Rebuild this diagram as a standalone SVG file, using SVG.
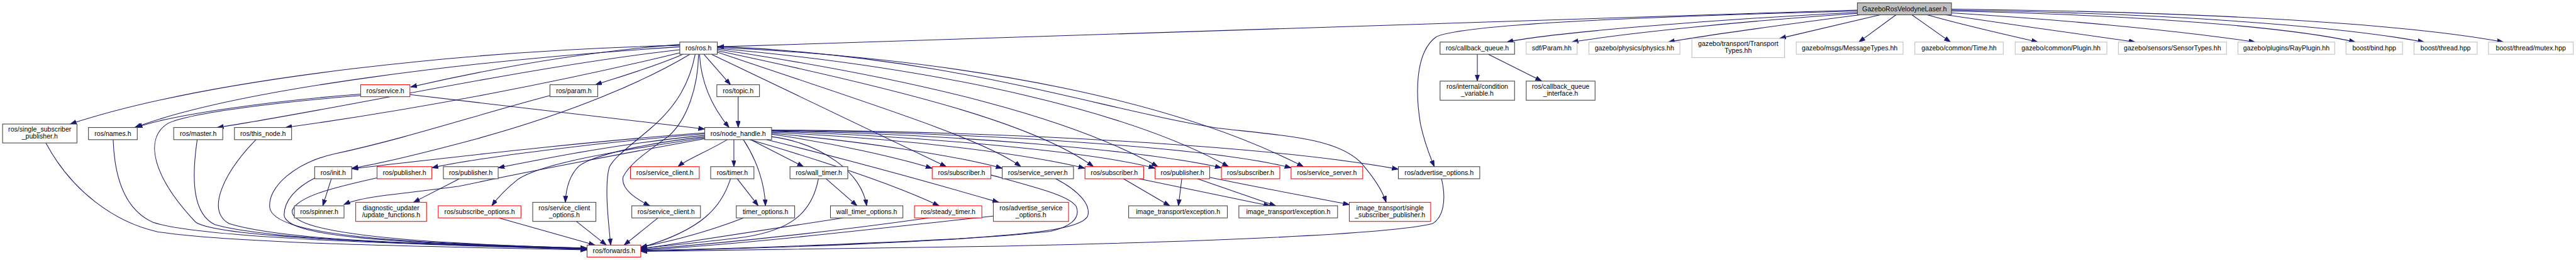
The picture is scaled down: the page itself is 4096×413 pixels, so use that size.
<svg xmlns="http://www.w3.org/2000/svg" width="4096" height="413" viewBox="0 0 4096 413">
<style>
.e{fill:none;stroke:#191970;stroke-width:1.4;marker-end:url(#a)}
rect{fill:#fff;stroke-width:1.4}
.k{stroke:#404040}.r{stroke:#ff0000}.g{stroke:#bfbfbf}
.root{fill:#bfbfbf;stroke:#404040}
text{font-family:"Liberation Sans",Arial,sans-serif;font-size:14px;text-anchor:middle;fill:#000}
</style>
<defs>
<marker id="a" markerUnits="userSpaceOnUse" markerWidth="14" markerHeight="10" refX="13.3" refY="4.7" orient="auto"><path d="M0,0 L13.3,4.7 L0,9.4 z" fill="#191970" stroke="#191970" stroke-width="1"/></marker>
</defs>
<rect x="0" y="0" width="4096" height="413" style="fill:#fff;stroke:none"/>
<g transform="scale(0.75922)">
<g id="edges">
<path class="e" d="M3890,21 L1503,98"/>
<path class="e" d="M3890,26 C3600,40 3250,68 3156,88"/>
<path class="e" d="M3890,23 C3400,36 3060,52 3008,77 C2962,110 2965,200 2975,260 C2985,305 2996,330 3004,348.7"/>
<path class="e" d="M3890,28 C3650,44 3400,70 3292,88"/>
<path class="e" d="M3895,31 C3750,50 3580,72 3494,88"/>
<path class="e" d="M3938,31 L3727,80.5"/>
<path class="e" d="M3971,31 L3893,88"/>
<path class="e" d="M4004,31 L4085,88"/>
<path class="e" d="M4036,31 C4120,55 4200,72 4268,88"/>
<path class="e" d="M4075,31 C4200,50 4350,70 4472,88"/>
<path class="e" d="M4087,27 C4300,40 4550,62 4723,88"/>
<path class="e" d="M4087,23 C4500,32 4800,58 4933,88"/>
<path class="e" d="M4087,21 C4550,28 4900,55 5077,88"/>
<path class="e" d="M4087,19 C4650,25 5050,52 5243,88"/>
<path class="e" d="M3094,113.5 L3094,169.7"/>
<path class="e" d="M3117,113.5 L3229,169.7"/>
<path class="e" d="M1474,113.5 L1530,177.3"/>
<path class="e" d="M1465,113.5 C1468,170 1490,222 1527,266.8"/>
<path class="e" d="M1424,95 C1000,105 450,160 147,259.5"/>
<path class="e" d="M1424,98 C1000,125 500,185 282,266.8"/>
<path class="e" d="M1424,104 C1100,140 700,230 455,266.8"/>
<path class="e" d="M1426,110 C1200,165 900,225 598,266.8"/>
<path class="e" d="M1424,93 C1200,110 1000,150 860,182"/>
<path class="e" d="M1430,113.5 C1370,140 1300,160 1247,177.3"/>
<path class="e" d="M1445,113.5 C1350,170 1200,235 1000,290 C880,322 780,345 737,352"/>
<path class="e" d="M1456,113.5 C1445,170 1420,220 1361,270 C1320,305 1285,330 1276,350 C1265,390 1275,470 1279,512.8"/>
<path class="e" d="M1463,113.5 C1462,180 1440,250 1400,285 C1360,315 1320,340 1305,370 C1300,395 1330,415 1361,430.6"/>
<path class="e" d="M1490,113.5 L1982,348.7"/>
<path class="e" d="M1502,109 C1800,210 2060,290 2138,348.7"/>
<path class="e" d="M1502,106 C1900,190 2170,260 2290,348.7"/>
<path class="e" d="M1502,103 C1950,170 2250,250 2425,348.7"/>
<path class="e" d="M1502,101 C2000,145 2380,240 2573,348.7"/>
<path class="e" d="M1502,99 C2050,125 2470,215 2730,348.7"/>
<path class="e" d="M1502,97 C2000,118 2300,228 2550,268 C2700,285 2800,290 2850,340 C2878,372 2895,398 2903,423.3"/>
<path class="e" d="M755,197 C560,212 360,240 285,266.8"/>
<path class="e" d="M755,200 C600,212 400,235 352,258 C300,290 320,370 410,465 C460,500 900,510 1229,521"/>
<path class="e" d="M858.5,198 C1100,225 1300,250 1476,270"/>
<path class="e" d="M1152,200 C1000,240 850,290 700,322 C620,340 560,390 565,435 C575,490 800,508 1229,519"/>
<path class="e" d="M1546,202.3 L1546,266.8"/>
<path class="e" d="M1537,292.2 L1537,348.7"/>
<path class="e" d="M1557,292.2 C1585,335 1602,385 1603,430.6"/>
<path class="e" d="M1572,292.2 L1683,348.7"/>
<path class="e" d="M1616,286 C1720,300 1805,360 1815,430.6"/>
<path class="e" d="M1570,292.2 C1700,330 1860,380 1967,430.6"/>
<path class="e" d="M1605,292.2 C1800,340 1960,385 2092,423.3"/>
<path class="e" d="M1523,292.2 C1480,318 1440,332 1420,348.7"/>
<path class="e" d="M1477,286 C1350,300 1240,325 1212,348 C1190,370 1185,400 1184,423.3"/>
<path class="e" d="M1477,288 C1260,320 1130,345 1085,375 C1060,395 1045,410 1030,430.6"/>
<path class="e" d="M1477,290 C1300,322 1100,360 960,390 C850,405 760,410 720,428"/>
<path class="e" d="M1477,283 C1300,300 1150,330 1043.3,351"/>
<path class="e" d="M1477,280 C1250,298 1000,330 904.5,351"/>
<path class="e" d="M1477,278 C1200,298 900,335 736.6,353"/>
<path class="e" d="M1616,281 C1750,300 1880,330 1952,352"/>
<path class="e" d="M1616,279 C1800,295 2000,325 2099,352"/>
<path class="e" d="M1616,277 C1900,290 2150,322 2272,352"/>
<path class="e" d="M1616,275 C1950,285 2300,320 2419,352"/>
<path class="e" d="M1616,274 C2000,280 2400,315 2558,351"/>
<path class="e" d="M1616,273 C2100,278 2550,312 2704,351"/>
<path class="e" d="M1616,272 C2200,276 2700,312 2928.6,354"/>
<path class="e" d="M694,374 L676,430.6"/>
<path class="e" d="M660,372 C620,392 595,420 595,450 C600,495 800,508 1229,520"/>
<path class="e" d="M96,299 C150,400 240,465 330,485 C500,510 900,516 1229,523"/>
<path class="e" d="M237,292.2 C240,380 265,440 320,465 C420,500 900,512 1229,522"/>
<path class="e" d="M413,292.2 C400,380 405,448 450,470 C560,502 900,512 1229,521"/>
<path class="e" d="M536,292.2 C470,360 430,440 480,468 C600,505 900,510 1229,520"/>
<path class="e" d="M790,372 C700,392 625,410 612,440 C605,485 820,508 1229,519"/>
<path class="e" d="M962,374 L866,423.3"/>
<path class="e" d="M1045,456 L1246,512.8"/>
<path class="e" d="M1207,463.2 L1270,512.8"/>
<path class="e" d="M1378,456 L1307,512.8"/>
<path class="e" d="M1544,374 L1588,430.6"/>
<path class="e" d="M1530,374 C1512,430 1475,480 1342,518"/>
<path class="e" d="M1557,456 C1500,478 1420,502 1342,517"/>
<path class="e" d="M1730,374 L1795,430.6"/>
<path class="e" d="M1714,374 C1700,450 1650,482 1560,496 C1450,510 1380,515 1342,520"/>
<path class="e" d="M1765,456 C1600,482 1450,505 1342,521"/>
<path class="e" d="M1945,456 C1700,490 1500,510 1342,522"/>
<path class="e" d="M2080,452 C1800,482 1550,512 1342,523"/>
<path class="e" d="M2211,374 C2262,400 2285,430 2278,452 C2265,480 2150,490 2000,500 C1700,515 1450,522 1342,524"/>
<path class="e" d="M2075,366 C2180,395 2240,410 2254,432 C2265,460 2235,476 2200,484 C2000,506 1600,520 1342,525"/>
<path class="e" d="M3019,374 C3030,420 3022,455 3000,468 C2900,492 2500,506 2100,515 C1800,521 1500,525 1342,526"/>
<path class="e" d="M2353,374 L2450,430.6"/>
<path class="e" d="M2386,374 L2660,430.6"/>
<path class="e" d="M2475,374 L2468,430.6"/>
<path class="e" d="M2508,374 L2672,430.6"/>
<path class="e" d="M2533.5,371 C2650,395 2760,415 2826,428"/>
</g>
<g id="n-root"><rect class="root" x="3890" y="6" width="197" height="25"/><text x="3988.5" y="23.3">GazeboRosVelodyneLaser.h</text></g>
<g id="n-ros"><rect class="k" x="1423.7" y="88" width="78.5" height="25.5"/><text x="1463" y="105.5">ros/ros.h</text></g>
<g id="n-cbq"><rect class="k" x="3016" y="88" width="156" height="25.5"/><text x="3094" y="105.5">ros/callback_queue.h</text></g>
<g id="n-sdf"><rect class="g" x="3196.4" y="88" width="106.7" height="25.5"/><text x="3249.8" y="105.5">sdf/Param.hh</text></g>
<g id="n-phys"><rect class="g" x="3327.7" y="88" width="190.6" height="25.5"/><text x="3423" y="105.5">gazebo/physics/physics.hh</text></g>
<g id="n-transp"><rect class="g" x="3543.3" y="80.5" width="194.2" height="40"/><text x="3640.4" y="96.5">gazebo/transport/Transport</text><text x="3640.4" y="111.1">Types.hh</text></g>
<g id="n-msgs"><rect class="g" x="3762" y="88" width="223.7" height="25.5"/><text x="3873.9" y="105.5">gazebo/msgs/MessageTypes.hh</text></g>
<g id="n-time"><rect class="g" x="4010.3" y="88" width="185.2" height="25.5"/><text x="4102.9" y="105.5">gazebo/common/Time.hh</text></g>
<g id="n-plugin"><rect class="g" x="4220.5" y="88" width="192" height="25.5"/><text x="4316.5" y="105.5">gazebo/common/Plugin.hh</text></g>
<g id="n-sensor"><rect class="g" x="4436.6" y="88" width="226.4" height="25.5"/><text x="4549.8" y="105.5">gazebo/sensors/SensorTypes.hh</text></g>
<g id="n-ray"><rect class="g" x="4687" y="88" width="202.7" height="25.5"/><text x="4788.4" y="105.5">gazebo/plugins/RayPlugin.hh</text></g>
<g id="n-bind"><rect class="g" x="4913.3" y="88" width="118.4" height="25.5"/><text x="4972.5" y="105.5">boost/bind.hpp</text></g>
<g id="n-thread"><rect class="g" x="5055.7" y="88" width="132.3" height="25.5"/><text x="5121.9" y="105.5">boost/thread.hpp</text></g>
<g id="n-mutex"><rect class="g" x="5211.7" y="88" width="177.6" height="25.5"/><text x="5300.5" y="105.5">boost/thread/mutex.hpp</text></g>
<g id="n-service"><rect class="r" x="755.4" y="177.3" width="103.1" height="25"/><text x="807" y="194.6">ros/service.h</text></g>
<g id="n-param"><rect class="k" x="1151.8" y="177.3" width="100" height="25"/><text x="1201.8" y="194.6">ros/param.h</text></g>
<g id="n-topic"><rect class="k" x="1501.3" y="177.3" width="89.3" height="25"/><text x="1546" y="194.6">ros/topic.h</text></g>
<g id="n-condvar"><rect class="k" x="3016" y="169.7" width="156" height="40"/><text x="3094" y="185.7">ros/internal/condition</text><text x="3094" y="200.3">_variable.h</text></g>
<g id="n-cbqi"><rect class="k" x="3196.4" y="169.7" width="144.2" height="40"/><text x="3268.5" y="185.7">ros/callback_queue</text><text x="3268.5" y="200.3">_interface.h</text></g>
<g id="n-ssp"><rect class="k" x="5.4" y="259.5" width="155.8" height="39.6"/><text x="83.3" y="275.5">ros/single_subscriber</text><text x="83.3" y="290.1">_publisher.h</text></g>
<g id="n-names"><rect class="k" x="185.3" y="266.8" width="102.2" height="25.4"/><text x="236.4" y="284.3">ros/names.h</text></g>
<g id="n-master"><rect class="k" x="363.8" y="266.8" width="102.7" height="25.4"/><text x="415.2" y="284.3">ros/master.h</text></g>
<g id="n-thisnode"><rect class="k" x="491" y="266.8" width="119.7" height="25.4"/><text x="550.9" y="284.3">ros/this_node.h</text></g>
<g id="n-nh"><rect class="k" x="1476" y="266.8" width="140" height="25.4"/><text x="1546" y="284.3">ros/node_handle.h</text></g>
<g id="n-init"><rect class="k" x="659" y="348.7" width="77.6" height="25.3"/><text x="697.8" y="366.2">ros/init.h</text></g>
<g id="n-pub1"><rect class="r" x="789.7" y="348.7" width="114.8" height="25.3"/><text x="847.1" y="366.2">ros/publisher.h</text></g>
<g id="n-pub2"><rect class="k" x="928.6" y="348.7" width="114.7" height="25.3"/><text x="986" y="366.2">ros/publisher.h</text></g>
<g id="n-sc1"><rect class="r" x="1320.4" y="348.7" width="144.1" height="25.3"/><text x="1392.5" y="366.2">ros/service_client.h</text></g>
<g id="n-timer"><rect class="k" x="1488.4" y="348.7" width="90.6" height="25.3"/><text x="1533.7" y="366.2">ros/timer.h</text></g>
<g id="n-wtimer"><rect class="k" x="1654.5" y="348.7" width="121" height="25.3"/><text x="1715" y="366.2">ros/wall_timer.h</text></g>
<g id="n-sub1"><rect class="r" x="1952.3" y="348.7" width="123" height="25.3"/><text x="2013.8" y="366.2">ros/subscriber.h</text></g>
<g id="n-ss1"><rect class="k" x="2099" y="348.7" width="149.3" height="25.3"/><text x="2173.7" y="366.2">ros/service_server.h</text></g>
<g id="n-sub2"><rect class="r" x="2272.3" y="348.7" width="122.8" height="25.3"/><text x="2333.7" y="366.2">ros/subscriber.h</text></g>
<g id="n-pub3"><rect class="r" x="2419.2" y="348.7" width="114.3" height="25.3"/><text x="2476.4" y="366.2">ros/publisher.h</text></g>
<g id="n-sub3"><rect class="r" x="2558" y="348.7" width="122.4" height="25.3"/><text x="2619.2" y="366.2">ros/subscriber.h</text></g>
<g id="n-ss2"><rect class="r" x="2704" y="348.7" width="150" height="25.3"/><text x="2779" y="366.2">ros/service_server.h</text></g>
<g id="n-advopt"><rect class="k" x="2928.6" y="348.7" width="170.5" height="25.3"/><text x="3013.9" y="366.2">ros/advertise_options.h</text></g>
<g id="n-spinner"><rect class="k" x="616.5" y="430.6" width="104" height="25.3"/><text x="668.5" y="448">ros/spinner.h</text></g>
<g id="n-diag"><rect class="r" x="745" y="423.3" width="148.3" height="39.9"/><text x="819.2" y="439.3">diagnostic_updater</text><text x="819.2" y="453.9">/update_functions.h</text></g>
<g id="n-subopt"><rect class="r" x="917.9" y="430.6" width="173.1" height="25.3"/><text x="1004.5" y="448">ros/subscribe_options.h</text></g>
<g id="n-scopt"><rect class="k" x="1115.7" y="423.3" width="132.3" height="39.9"/><text x="1181.9" y="439.3">ros/service_client</text><text x="1181.9" y="453.9">_options.h</text></g>
<g id="n-sc2"><rect class="k" x="1323.2" y="430.6" width="143.8" height="25.3"/><text x="1395.1" y="448">ros/service_client.h</text></g>
<g id="n-topt"><rect class="k" x="1542" y="430.6" width="122.3" height="25.3"/><text x="1603.2" y="448">timer_options.h</text></g>
<g id="n-wtopt"><rect class="k" x="1739.3" y="430.6" width="151.7" height="25.3"/><text x="1815.2" y="448">wall_timer_options.h</text></g>
<g id="n-steady"><rect class="r" x="1915.2" y="430.6" width="141.1" height="25.3"/><text x="1985.8" y="448">ros/steady_timer.h</text></g>
<g id="n-advsrv"><rect class="r" x="2080.4" y="423.3" width="157.6" height="39.9"/><text x="2159.2" y="439.3">ros/advertise_service</text><text x="2159.2" y="453.9">_options.h</text></g>
<g id="n-exc1"><rect class="k" x="2363.8" y="430.6" width="206.7" height="25.3"/><text x="2467.2" y="448">image_transport/exception.h</text></g>
<g id="n-exc2"><rect class="k" x="2594.6" y="430.6" width="206.7" height="25.3"/><text x="2698" y="448">image_transport/exception.h</text></g>
<g id="n-itssp"><rect class="r" x="2825.9" y="423.3" width="170.5" height="39.9"/><text x="2911.2" y="439.3">image_transport/single</text><text x="2911.2" y="453.9">_subscriber_publisher.h</text></g>
<g id="n-fwd"><rect class="r" x="1229.5" y="512.8" width="112.5" height="25"/><text x="1285.8" y="530.1">ros/forwards.h</text></g>
</g>
</svg>
